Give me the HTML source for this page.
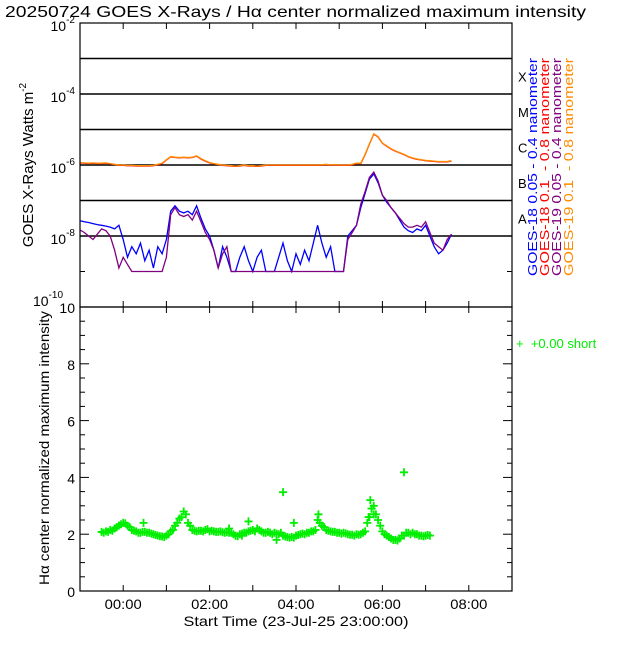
<!DOCTYPE html>
<html><head><meta charset="utf-8"><style>
html,body{margin:0;padding:0;background:#fff;}
svg text{font-family:"Liberation Sans",sans-serif;}
</style></head><body>
<svg id="chart" width="640" height="640" viewBox="0 0 640 640" xmlns="http://www.w3.org/2000/svg">
<rect width="640" height="640" fill="#fff"/>
<text x="5" y="17" font-size="16" textLength="581" lengthAdjust="spacingAndGlyphs">20250724 GOES X-Rays / Hα center normalized maximum intensity</text>
<g id="topg"></g><g id="botg"></g>
</svg>
<script>
const blueLog=[-7.57,-7.6,-7.62,-7.65,-7.68,-7.7,-7.72,-7.75,-7.8,-7.7,-8.1,-8.6,-8.3,-8.5,-8.2,-8.7,-8.4,-8.9,-8.3,-8.5,-8.1,-7.3,-7.15,-7.3,-7.35,-7.3,-7.4,-7.15,-7.5,-7.8,-8.0,-8.4,-8.9,-8.3,-8.6,-9,-9,-8.6,-8.3,-8.7,-9,-8.6,-8.4,-9,-9,-9,-8.6,-8.2,-8.7,-9,-8.5,-8.8,-8.4,-8.7,-8.2,-7.7,-8.2,-8.6,-8.3,-9,-9,-9,-8.0,-7.85,-7.7,-7.2,-6.8,-6.4,-6.25,-6.5,-6.85,-7.05,-7.2,-7.35,-7.55,-7.75,-7.85,-7.9,-7.8,-7.85,-7.7,-8.0,-8.3,-8.5,-8.4,-8.2,-7.95];
const purpleLog=[-7.83,-7.9,-8.0,-8.1,-7.95,-7.8,-7.85,-8.0,-8.4,-8.9,-8.6,-8.8,-9,-9,-9,-9,-9,-9,-9,-9,-8.6,-7.4,-7.2,-7.4,-7.45,-7.4,-7.55,-7.3,-7.6,-7.9,-8.1,-8.4,-8.9,-8.5,-8.3,-9,-9,-9,-9,-9,-9,-9,-9,-9,-9,-9,-9,-9,-9,-9,-9,-9,-9,-9,-9,-9,-9,-9,-9,-9,-9,-9,-8.1,-7.9,-7.7,-7.1,-6.75,-6.35,-6.2,-6.45,-6.85,-7.0,-7.2,-7.35,-7.5,-7.65,-7.75,-7.75,-7.7,-7.75,-7.6,-7.9,-8.2,-8.3,-8.4,-8.1,-7.95];
const orangeLog=[-5.93,-5.94,-5.95,-5.94,-5.95,-5.95,-5.94,-5.96,-5.98,-6.0,-6.0,-6.01,-6.01,-6.02,-6.02,-6.02,-6.02,-6.01,-5.98,-5.95,-5.85,-5.76,-5.78,-5.79,-5.78,-5.79,-5.78,-5.74,-5.82,-5.88,-5.93,-5.96,-5.98,-6.0,-6.01,-6.02,-6.03,-6.02,-6.0,-6.02,-6.02,-6.03,-6.02,-6.0,-6.0,-6.0,-6.0,-6.0,-6.0,-6.0,-6.0,-6.0,-6.0,-6.0,-6.0,-6.0,-5.99,-5.98,-6.0,-5.99,-6.0,-6.0,-6.0,-5.98,-5.95,-5.95,-5.7,-5.4,-5.12,-5.2,-5.38,-5.46,-5.54,-5.6,-5.65,-5.7,-5.76,-5.8,-5.83,-5.85,-5.87,-5.88,-5.89,-5.9,-5.9,-5.9,-5.88];
const redLog=[-5.94,-5.95,-5.96,-5.95,-5.96,-5.96,-5.95,-5.97,-5.99,-6.01,-6.01,-6.02,-6.02,-6.03,-6.03,-6.03,-6.03,-6.02,-5.99,-5.96,-5.86,-5.77,-5.79,-5.8,-5.79,-5.8,-5.79,-5.75,-5.83,-5.89,-5.94,-5.97,-5.99,-6.01,-6.02,-6.03,-6.04,-6.03,-6.01,-6.03,-6.03,-6.04,-6.03,-6.01,-6.01,-6.01,-6.01,-6.01,-6.01,-6.01,-6.01,-6.01,-6.01,-6.01,-6.01,-6.01,-6.0,-5.99,-6.01,-6.0,-6.01,-6.01,-6.01,-5.99,-5.96,-5.96,-5.71,-5.41,-5.13,-5.21,-5.39,-5.47,-5.55,-5.61,-5.66,-5.71,-5.77,-5.81,-5.84,-5.86,-5.88,-5.89,-5.9,-5.91,-5.91,-5.91,-5.89];
const greenStart=0.5;
const greenVals=[2.08,2.05,2.1,2.08,2.15,2.12,2.2,2.25,2.3,2.35,2.4,2.38,2.3,2.25,2.15,2.12,2.1,2.05,2.05,2.08,2.08,2.05,2.05,2.02,2.0,1.97,1.95,1.93,1.92,1.9,1.95,2.0,2.1,2.15,2.3,2.4,2.55,2.6,2.8,2.7,2.4,2.3,2.15,2.12,2.1,2.12,2.12,2.1,2.15,2.18,2.1,2.12,2.1,2.08,2.08,2.1,2.07,2.05,2.07,2.05,2.05,2.0,1.95,1.93,2.0,2.02,2.05,2.05,2.1,2.12,2.15,2.1,2.2,2.15,2.1,2.05,2.05,2.08,2.05,2.0,2.05,2.02,2.0,2.05,1.95,1.92,1.9,1.88,1.9,1.88,1.95,1.97,2.0,2.02,2.0,2.05,2.05,2.1,2.1,2.15,2.5,2.4,2.3,2.25,2.15,2.12,2.1,2.08,2.08,2.05,2.05,2.02,2.05,2.03,2.0,1.98,1.98,1.95,2.0,1.98,2.0,2.05,2.1,2.4,2.6,2.9,3.0,2.7,2.5,2.3,2.1,2.0,1.95,1.9,1.85,1.8,1.8,1.78,1.85,1.95,1.95,2.05,2.05,2.0,2.05,2.0,2.0,1.95,1.95,1.93,1.95,1.97,1.95];
const outT=[1.47,4.7,7.5,6.72,3.9,3.75,4.55,6.75,5.52,3.45,4.95,6.68,6.8];
const outV=[2.4,3.48,4.18,3.2,2.45,1.95,1.8,2.9,2.7,2.2,2.4,2.6,2.7];
const xTickLabels=["00:00","02:00","04:00","06:00","08:00"];
const topTickLabels=["-2","-4","-6","-8","-10"];
const botTickLabels=["0","2","4","6","8","10"];
const classLetters=["X","M","C","B","A"];

const NS="http://www.w3.org/2000/svg";
const X0=80,X1=512,PXH=43.2;
const tx=t=>X0+t*PXH;
const TY0=23,TY1=307;
const ly=l=>TY0+(-2-l)*(TY1-TY0)/8;
const BY0=307,BY1=591;
const gy=v=>BY1-v*(BY1-BY0)/10;
function mk(tag,attrs,parent){const e=document.createElementNS(NS,tag);for(const k in attrs)e.setAttribute(k,attrs[k]);parent.appendChild(e);return e;}
const topG=document.getElementById('topg'),botG=document.getElementById('botg');

for(let l=-3;l>=-8;l--){const g=mk('line',{x1:X0,x2:X1,y1:ly(l),y2:ly(l),stroke:'#000','stroke-width':1.5},topG);

}
function series(arr,color,name){
 const pts=arr.map((v,i)=>tx(i*0.1).toFixed(1)+','+ly(v).toFixed(1)).join(' ');
 const p=mk('polyline',{points:pts,fill:'none',stroke:color,'stroke-width':1.3},topG);
 
 
}
series(redLog,'#ff0000','goes18-long-line');
series(orangeLog,'#ff8c00','goes19-long-line');
series(blueLog,'#0000ff','goes18-short-line');
series(purpleLog,'#800080','goes19-short-line');

function frame(y0,y1,name,parent){const r=mk('rect',{x:X0,y:y0,width:X1-X0,height:y1-y0,fill:'none',stroke:'#000','stroke-width':1.2},parent);

}
frame(TY0,TY1,'xray-plot-frame',topG);
frame(BY0,BY1,'halpha-plot-frame',botG);

for(let l=-2;l>=-10;l--){
 mk('line',{x1:X0,x2:X0+5,y1:ly(l),y2:ly(l),stroke:'#000'},topG);
 mk('line',{x1:X1-5,x2:X1,y1:ly(l),y2:ly(l),stroke:'#000'},topG);
}
topTickLabels.forEach((s,i)=>{const y=ly(-2-2*i);
 const last=i===topTickLabels.length-1;
 const t=mk('text',{x:last?63:75,y:last?y-1:y+8,'font-size':14,'text-anchor':'end'},topG);
 
 
 t.textContent='10';
 const sp=mk('tspan',{dy:-8,'font-size':10},t);sp.textContent=s;
});
const yt=mk('text',{x:0,y:0,'font-size':15,'text-anchor':'middle',transform:'translate(33,165) rotate(-90)'},topG);


yt.textContent='GOES X-Rays Watts m';
const ys=mk('tspan',{dy:-7,'font-size':10},yt);ys.textContent='-2';
classLetters.forEach((c,i)=>{const t=mk('text',{x:518,y:ly(-3.5-i)+5,'font-size':13},topG);
 
 
 t.textContent=c;});
const legs=[["GOES-18 0.05 - 0.4 nanometer","#0000ff",537],["GOES-18 0.1  - 0.8 nanometer","#ff0000",549],["GOES-19 0.05 - 0.4 nanometer","#800080",561],["GOES-19 0.1  - 0.8 nanometer","#ff8c00",573]];
legs.forEach(([s,c,x])=>{const t=mk('text',{x:0,y:0,'font-size':13,fill:c,transform:`translate(${x},276) rotate(-90)`,textLength:218,lengthAdjust:'spacingAndGlyphs'},topG);
 
 
 t.style.whiteSpace='pre';
 t.textContent=s;});

for(let h=0;h<=9;h++){const x=tx(h+1);if(x>X1)break;
 [[TY0,6],[TY1,-6],[BY0,6],[BY1,-6]].forEach(([y,d])=>mk('line',{x1:x,x2:x,y1:y,y2:y+d,stroke:'#000'},topG));}
xTickLabels.forEach((s,i)=>{const t=mk('text',{x:tx(1+2*i),y:609,'font-size':14,'text-anchor':'middle',textLength:37,lengthAdjust:'spacingAndGlyphs'},botG);
 
 
 t.textContent=s;});
const xt=mk('text',{x:296,y:626,'font-size':14,'text-anchor':'middle',textLength:225,lengthAdjust:'spacingAndGlyphs'},botG);


xt.textContent='Start Time (23-Jul-25 23:00:00)';

for(let k=0;k<=20;k++){const y=gy(k*0.5),L=(k%4===0)?9:5;
 mk('line',{x1:X0,x2:X0+L,y1:y,y2:y,stroke:'#000'},botG);
 mk('line',{x1:X1-L,x2:X1,y1:y,y2:y,stroke:'#000'},botG);}
botTickLabels.forEach(s=>{const t=mk('text',{x:75,y:gy(+s)+6,'font-size':14,'text-anchor':'end'},botG);
 
 
 t.textContent=s;});
const yt2=mk('text',{x:0,y:0,'font-size':14,'text-anchor':'middle',transform:'translate(49,448) rotate(-90)',textLength:274,lengthAdjust:'spacingAndGlyphs'},botG);


yt2.textContent='Hα center normalized maximum intensity';

function plus(t,v){const x=tx(t),y=gy(v);
 const p=mk('path',{d:`M${x-4},${y}H${x+4}M${x},${y-4}V${y+4}`,stroke:'#00ee00','stroke-width':1.8},botG);
 
 }
greenVals.forEach((v,i)=>{plus(greenStart+i*0.05,v);});
outT.forEach((t,i)=>plus(t,outV[i]));
const lg=mk('text',{x:516,y:348,'font-size':13,fill:'#00ee00'},botG);


lg.style.whiteSpace='pre';
lg.textContent='+  +0.00 short';
</script>
</body></html>
